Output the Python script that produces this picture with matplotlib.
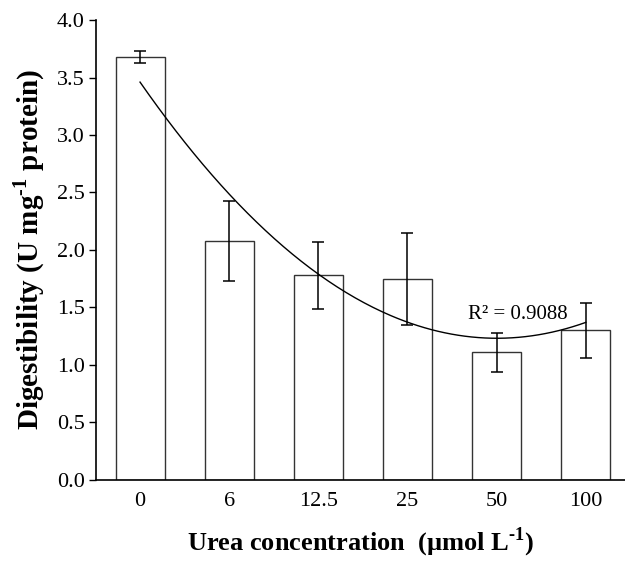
import numpy as np
import matplotlib.pyplot as plt

plt.rcParams['font.family'] = ['Liberation Serif', 'DejaVu Serif']
plt.rcParams['mathtext.fontset'] = 'custom'
plt.rcParams['mathtext.rm'] = 'Liberation Serif:bold'
plt.rcParams['mathtext.bf'] = 'Liberation Serif:bold'

# data
concentrations = ['0', '6', '12.5', '25', '50', '100']
digestibility = [3.68, 2.08, 1.78, 1.75, 1.11, 1.30]
errors = [0.05, 0.35, 0.29, 0.40, 0.17, 0.24]
# quadratic trend line (a, b, c) against category index
trend_coef = [0.139, -1.113, 3.46]
r_squared = 0.9088

fig = plt.figure(figsize=(6.25, 5.72), dpi=100)
ax = fig.add_axes([0.1536, 0.161, 0.8464, 0.804])

x = np.arange(len(concentrations))
ax.bar(x, digestibility, width=0.55, color='white', edgecolor='#333333', linewidth=1.0, zorder=2)
ax.errorbar(x, digestibility, yerr=errors, fmt='none', ecolor='black',
            elinewidth=1.1, capsize=4, capthick=1.1, zorder=3)

xs = np.linspace(x[0], x[-1], 200)
ax.plot(xs, np.polyval(trend_coef, xs), color='black', lw=1.0, zorder=4)

ax.text(4.24, 1.44, f'R² = {r_squared}', ha='center', va='center', fontsize=15)

ax.set_xlim(-0.494, 5.44)
ax.set_ylim(0, 4.0)
ax.set_yticks(np.arange(0, 4.01, 0.5))
ax.set_yticklabels([f'{v:.1f}' for v in np.arange(0, 4.01, 0.5)])
ax.set_xticks(x)
ax.set_xticklabels(concentrations)
ax.tick_params(axis='x', length=0, pad=9, labelsize=16)
ax.tick_params(axis='y', length=5, width=1, direction='out', labelsize=16, pad=3)

for side in ['top', 'right']:
    ax.spines[side].set_visible(False)
for side in ['left', 'bottom']:
    ax.spines[side].set_linewidth(1.2)

ax.set_ylabel(r'Digestibility (U mg$^{\text{-1}}$ protein)', fontsize=21, fontweight='bold', labelpad=7)
ax.set_xlabel(r'Urea concentration  (µmol L$^{\text{-1}}$)', fontsize=19, fontweight='bold', labelpad=10)

fig.savefig('out.png', dpi=100)
